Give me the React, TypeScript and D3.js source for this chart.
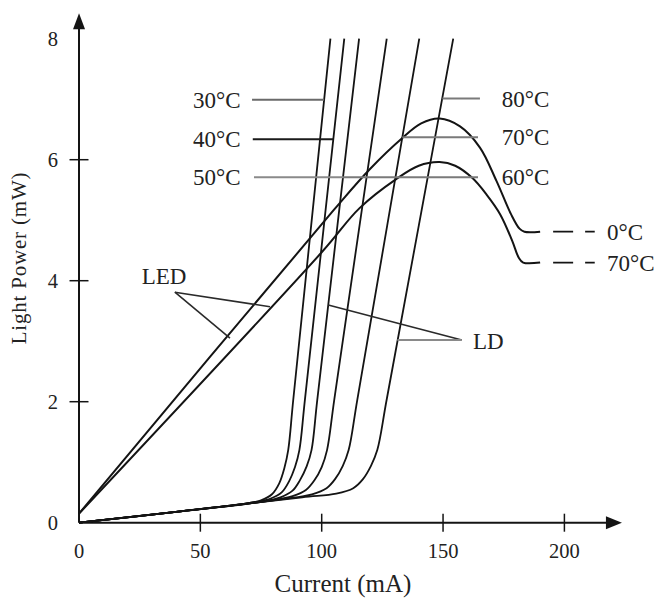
import React from "react";
import * as d3 from "d3";

type Pt = [number, number];

// LED curves (0°C and 70°C), current mA -> light power mW
const led0C: Pt[] = [
  [0, 0.15], [105, 5.17], [120, 5.85], [133, 6.35], [141, 6.6], [148.6, 6.68],
  [157, 6.55], [165.2, 6.2], [172, 5.65], [178, 5.1], [181.5, 4.86], [183.5, 4.81], [190, 4.81],
];
const led70C: Pt[] = [
  [0, 0.15], [100, 4.47], [115.6, 5.2], [130.7, 5.68], [140, 5.9], [148.6, 5.96],
  [155, 5.9], [162, 5.7], [168, 5.42], [173.5, 5.1], [178.5, 4.66], [181.2, 4.38], [183, 4.3], [190, 4.3],
];
const ledTails: Pt[][] = [
  [[190, 4.81], [212.5, 4.81]],
  [[190, 4.3], [212.5, 4.3]],
];
const ledTailLabels = ["0°C", "70°C"];

// LD curves, 30°C .. 80°C
const ldTemps = ["30°C", "40°C", "50°C", "60°C", "70°C", "80°C"];
const ldCurves: Pt[][] = [
  [[0, 0], [40, 0.18], [68, 0.31], [75, 0.37], [79.5, 0.47], [82.5, 0.65], [84.6, 0.9], [86.2, 1.2], [88.3, 2.04], [103.6, 8]],
  [[0, 0], [40, 0.18], [71, 0.33], [79, 0.4], [83.5, 0.5], [86.5, 0.68], [89, 0.92], [90.8, 1.2], [93.1, 2.04], [109.3, 8]],
  [[0, 0], [40, 0.18], [74, 0.34], [83, 0.42], [88, 0.53], [91, 0.7], [93.8, 0.93], [95.8, 1.2], [98.2, 2.04], [115.4, 8]],
  [[0, 0], [40, 0.18], [78, 0.36], [88, 0.44], [93.5, 0.54], [97, 0.7], [100, 0.92], [102.2, 1.2], [105.2, 2.04], [126.8, 8]],
  [[0, 0], [40, 0.18], [84, 0.39], [96, 0.47], [102, 0.57], [105.5, 0.72], [108.7, 0.94], [111.1, 1.2], [114.7, 2.04], [140.2, 8]],
  [[0, 0], [40, 0.18], [92, 0.42], [106, 0.48], [113, 0.57], [117, 0.72], [120.3, 0.94], [122.9, 1.2], [126.8, 2.04], [154.2, 8]],
];

// temperature leader lines: [from, to] in data units
const leftLeaders: Pt[][] = [
  [[71.3, 6.99], [101.0, 6.99]],
  [[71.6, 6.34], [104.8, 6.34]],
  [[72.1, 5.71], [108.8, 5.71]],
];
const leftLeaderColors = ["#6a6a6a", "#1a1a1a", "#8a8a8a"];
const rightLeaders: Pt[][] = [
  [[165.2, 7.01], [149.7, 7.01]],
  [[164.4, 6.37], [133.2, 6.37]],
  [[164.4, 5.71], [108.8, 5.71]],
];
const rightLeaderLabels = ["80°C", "70°C", "60°C"];

const ledPointers: Pt[][] = [
  [[39.5, 3.81], [62.2, 3.05]],
  [[39.5, 3.81], [78.7, 3.57]],
];
const ldPointers: Pt[][] = [
  [[157.7, 3.02], [102.7, 3.6]],
  [[157.7, 3.02], [131.2, 3.02]],
];

const xTicks = [50, 100, 150, 200];
const xTickLabels = [0, 50, 100, 150, 200];
const yTicks = [2, 4, 6];
const yTickLabels = [0, 2, 4, 6, 8];
const xAxisEnd = 223.7;
const yAxisEnd = 8.42;

const font = "'Liberation Serif', 'Times New Roman', serif";
const ink = "#141414";
const textInk = "#222";

export default function App() {
  const x = d3.scaleLinear().domain([0, 200]).range([79, 564.4]);
  const y = d3.scaleLinear().domain([0, 8]).range([522.7, 38.7]);

  const curve = d3
    .line<Pt>()
    .x((d) => x(d[0]))
    .y((d) => y(d[1]))
    .curve(d3.curveCatmullRom.alpha(0.5));
  const straight = d3
    .line<Pt>()
    .x((d) => x(d[0]))
    .y((d) => y(d[1]));

  const x0 = x(0);
  const y0 = y(0);
  const xTip = x(xAxisEnd);
  const yTip = y(yAxisEnd);

  return (
    <svg
      width={655}
      height={600}
      style={{ position: "absolute", left: 0, top: 0, background: "#fff" }}
      fontFamily={font}
    >
      {/* axes */}
      <line x1={x0} y1={y0} x2={xTip - 8} y2={y0} stroke={ink} strokeWidth={2} />
      <line x1={x0} y1={y0} x2={x0} y2={yTip + 8} stroke={ink} strokeWidth={2} />
      <path d={`M${xTip},${y0} L${xTip - 16},${y0 - 6.5} L${xTip - 16},${y0 + 6.5} Z`} fill={ink} />
      <path d={`M${x0},${yTip} L${x0 - 6},${yTip + 16} L${x0 + 6},${yTip + 16} Z`} fill={ink} />

      {xTicks.map((t) => (
        <line key={"xt" + t} x1={x(t)} x2={x(t)} y1={y0 - 9} y2={y0 + 9} stroke={ink} strokeWidth={1.5} />
      ))}
      {yTicks.map((t) => (
        <line key={"yt" + t} x1={x0 - 9.5} x2={x0 + 9.5} y1={y(t)} y2={y(t)} stroke={ink} strokeWidth={1.5} />
      ))}
      {xTickLabels.map((t) => (
        <text key={"xl" + t} x={x(t)} y={558} textAnchor="middle" fontSize={20.5} fill={textInk}>
          {t}
        </text>
      ))}
      {yTickLabels.map((t) => (
        <text key={"yl" + t} x={58} y={y(t) + 7} textAnchor="end" fontSize={20.5} fill={textInk}>
          {t}
        </text>
      ))}
      <text x={343} y={592} textAnchor="middle" fontSize={25} fill={textInk}>
        Current (mA)
      </text>
      <text
        transform="translate(26,258) rotate(-90)"
        textAnchor="middle"
        fontSize={21}
        letterSpacing={0.8}
        fill={textInk}
      >
        Light Power (mW)
      </text>

      {/* LD curves */}
      {ldCurves.map((c, i) => (
        <path key={"ld" + i} d={curve(c) || ""} fill="none" stroke={ink} strokeWidth={1.8} />
      ))}

      {/* LED curves */}
      {[led0C, led70C].map((c, i) => (
        <path key={"led" + i} d={curve(c) || ""} fill="none" stroke={ink} strokeWidth={2} />
      ))}
      {ledTails.map((c, i) => (
        <path
          key={"tail" + i}
          d={straight(c) || ""}
          fill="none"
          stroke={ink}
          strokeWidth={1.8}
          strokeDasharray="0 13 20 12 10 99"
        />
      ))}
      {ledTails.map((c, i) => (
        <text key={"tl" + i} x={607} y={y(c[1][1]) + 8} fontSize={23} fill={textInk}>
          {ledTailLabels[i]}
        </text>
      ))}

      {/* temperature leaders */}
      {leftLeaders.map((c, i) => (
        <g key={"ll" + i}>
          <path d={straight(c) || ""} stroke={leftLeaderColors[i]} strokeWidth={2} fill="none" />
          <text x={193} y={y(c[0][1]) + 8} fontSize={23} fill={textInk}>
            {ldTemps[i]}
          </text>
        </g>
      ))}
      {rightLeaders.map((c, i) => (
        <g key={"rl" + i}>
          <path d={straight(c) || ""} stroke="#7a7a7a" strokeWidth={2} fill="none" />
          <text x={501.7} y={y(c[0][1]) + 8} fontSize={23} fill={textInk}>
            {rightLeaderLabels[i]}
          </text>
        </g>
      ))}

      {/* LED / LD pointers */}
      {ledPointers.map((c, i) => (
        <path key={"lp" + i} d={straight(c) || ""} stroke="#2a2a2a" strokeWidth={1.6} fill="none" />
      ))}
      <text x={141.7} y={284} fontSize={23} fill={textInk}>
        LED
      </text>
      {ldPointers.map((c, i) => (
        <path
          key={"dp" + i}
          d={straight(c) || ""}
          stroke={i === 0 ? "#2a2a2a" : "#8a8a8a"}
          strokeWidth={i === 0 ? 1.6 : 2}
          fill="none"
        />
      ))}
      <text x={473} y={349} fontSize={23} fill={textInk}>
        LD
      </text>
    </svg>
  );
}
